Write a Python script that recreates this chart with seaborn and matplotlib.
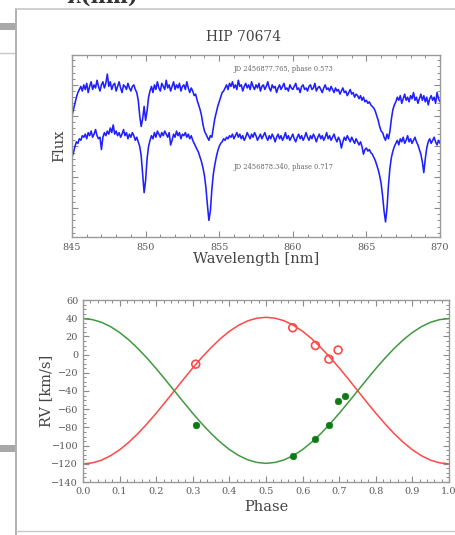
import numpy as np
import pandas as pd
import matplotlib
matplotlib.use("Agg")
import matplotlib.pyplot as plt
from matplotlib.ticker import MultipleLocator, NullFormatter
from matplotlib.lines import Line2D
from matplotlib.patches import Rectangle
import seaborn as sns

# ---------------- data ----------------
TITLE = "HIP 70674"

# CaT region spectra, sampled every 0.1 nm from 845.0 to 870.0 nm
WAVE_START, WAVE_STEP = 845.0, 0.1

FLUX_PHASE_0573 = [
    # 845.0 - 845.5
    0.80, 0.84, 0.88, 0.92, 0.95, 0.97,
    # 845.6 - 849.4
    0.99, 0.96, 1.00, 0.97, 1.01, 0.95, 0.99, 1.02, 0.97, 1.00, 0.98, 1.03, 0.99,
    0.96, 1.00, 1.02, 0.98, 1.01, 1.07, 0.99, 1.02, 0.97, 1.00, 1.01, 0.96, 0.99,
    1.02, 0.98, 0.95, 1.00, 0.99, 0.97, 1.01, 0.98, 0.96, 0.99, 1.00, 0.97, 0.95,
    # 849.5 - 850.3
    0.90, 0.80, 0.73, 0.78, 0.86, 0.77, 0.83, 0.92, 0.96,
    # 850.4 - 853.4
    0.99, 0.95, 1.00, 0.97, 1.02, 0.98, 0.96, 1.01, 0.99, 0.97, 1.03, 0.98, 1.00,
    0.96, 0.99, 1.02, 0.97, 1.00, 0.98, 1.01, 0.96, 0.99, 1.00, 0.97, 1.02, 0.98,
    0.95, 0.98, 0.96, 0.93, 0.94,
    # 853.5 - 855.3
    0.90, 0.87, 0.84, 0.80, 0.74, 0.70, 0.68, 0.66, 0.64, 0.67, 0.66, 0.72, 0.78,
    0.82, 0.86, 0.89, 0.92, 0.95, 0.96,
    # 855.4 - 864.9
    0.98, 1.00, 0.97, 1.01, 0.99, 1.02, 0.98, 1.00, 0.97, 1.03, 0.99, 1.00, 0.96,
    0.99, 1.01, 0.98, 1.00, 0.97, 1.02, 0.99, 0.97, 1.00, 0.98, 1.01, 0.96, 0.99,
    1.00, 0.97, 0.99, 1.02, 0.98, 0.96, 1.00, 0.98, 0.99, 0.95, 0.98, 1.00, 0.97,
    0.99, 1.01, 0.97, 0.98, 0.96, 1.00, 0.98, 0.97, 0.99, 1.01, 0.97, 0.98, 0.95,
    0.99, 1.00, 0.97, 0.98, 0.96, 0.99, 1.00, 0.97, 0.98, 1.01, 0.96, 0.98, 0.99,
    0.97, 0.95, 0.98, 1.00, 0.97, 0.98, 0.96, 0.99, 0.97, 0.95, 0.98, 0.96, 0.97,
    0.94, 0.96, 0.98, 0.95, 0.96, 0.93, 0.95, 0.97, 0.94, 0.95, 0.92, 0.94, 0.93,
    0.91, 0.93, 0.90, 0.92, 0.89,
    # 865.0 - 866.9
    0.90, 0.88, 0.89, 0.87, 0.86, 0.85, 0.83, 0.80, 0.77, 0.73, 0.70, 0.69, 0.66,
    0.64, 0.68, 0.65, 0.70, 0.78, 0.84, 0.87,
    # 867.0 - 870.0
    0.89, 0.92, 0.90, 0.93, 0.88, 0.91, 0.94, 0.90, 0.92, 0.89, 0.93, 0.91, 0.95,
    0.90, 0.92, 0.88, 0.91, 0.94, 0.90, 0.93, 0.89, 0.92, 0.87, 0.91, 0.93, 0.90,
    0.92, 0.88, 0.95, 0.91, 0.89,
]

FLUX_PHASE_0717 = [
    # 845.0 - 845.7
    0.53, 0.56, 0.60, 0.63, 0.62, 0.65, 0.64, 0.67,
    # 845.8 - 849.5
    0.66, 0.68, 0.65, 0.69, 0.67, 0.70, 0.66, 0.68, 0.71, 0.67, 0.65, 0.66, 0.58,
    0.66, 0.69, 0.67, 0.70, 0.68, 0.72, 0.69, 0.74, 0.68, 0.70, 0.67, 0.69, 0.66,
    0.68, 0.71, 0.67, 0.69, 0.65, 0.68, 0.66, 0.69, 0.67, 0.64, 0.66, 0.63,
    # 849.6 - 850.3
    0.60, 0.54, 0.42, 0.30, 0.38, 0.52, 0.60, 0.64,
    # 850.4 - 853.4
    0.67, 0.65, 0.69, 0.66, 0.70, 0.68, 0.66, 0.69, 0.67, 0.70, 0.68, 0.66, 0.69,
    0.61, 0.64, 0.68, 0.66, 0.70, 0.67, 0.69, 0.65, 0.68, 0.67, 0.69, 0.66, 0.68,
    0.65, 0.67, 0.64, 0.62, 0.60,
    # 853.5 - 855.3
    0.58, 0.56, 0.53, 0.50, 0.46, 0.41, 0.33, 0.22, 0.12, 0.18, 0.32, 0.42, 0.48,
    0.53, 0.57, 0.60, 0.62, 0.63, 0.65,
    # 855.4 - 864.9
    0.64, 0.66, 0.65, 0.67, 0.66, 0.68, 0.65, 0.67, 0.69, 0.66, 0.68, 0.65, 0.67,
    0.64, 0.66, 0.69, 0.67, 0.65, 0.68, 0.66, 0.69, 0.67, 0.64, 0.66, 0.68, 0.65,
    0.67, 0.69, 0.66, 0.64, 0.67, 0.65, 0.68, 0.66, 0.63, 0.66, 0.68, 0.65, 0.67,
    0.64, 0.66, 0.69, 0.65, 0.67, 0.64, 0.66, 0.68, 0.65, 0.63, 0.66, 0.68, 0.65,
    0.67, 0.64, 0.66, 0.69, 0.66, 0.64, 0.67, 0.65, 0.68, 0.66, 0.63, 0.66, 0.68,
    0.65, 0.67, 0.64, 0.66, 0.69, 0.65, 0.67, 0.64, 0.66, 0.68, 0.65, 0.63, 0.66,
    0.64, 0.59, 0.63, 0.66, 0.64, 0.67, 0.65, 0.63, 0.66, 0.64, 0.62, 0.65, 0.63,
    0.61, 0.63, 0.60, 0.55, 0.58,
    # 865.0 - 866.9
    0.59, 0.57, 0.58, 0.56, 0.55, 0.53, 0.51, 0.48, 0.45, 0.41, 0.36, 0.28, 0.18,
    0.11, 0.20, 0.35, 0.46, 0.53, 0.57, 0.60,
    # 867.0 - 870.0
    0.62, 0.64, 0.61, 0.65, 0.63, 0.66, 0.62, 0.64, 0.67, 0.63, 0.65, 0.62, 0.64,
    0.66, 0.63, 0.61, 0.58, 0.55, 0.50, 0.43, 0.52, 0.59, 0.63, 0.65, 0.62, 0.64,
    0.66, 0.63, 0.61, 0.64, 0.62,
]

SPEC_LABELS = ["JD 2456877.765, phase 0.573", "JD 2456878.340, phase 0.717"]

# Radial velocities (km/s)
OBS_PHASE_1 = [0.308, 0.573, 0.635, 0.672, 0.697]
OBS_RV_1 = [-10.5, 29.5, 10.0, -5.0, 5.0]
OBS_PHASE_2 = [0.308, 0.573, 0.635, 0.672, 0.697, 0.717]
OBS_RV_2 = [-77.0, -111.5, -93.0, -77.0, -50.5, -45.0]

# Orbit solution curves, tabulated every 0.025 in phase
CURVE_PHASE_STEP = 0.025
CURVE_RV_1 = [
    -120.0, -119.0, -116.1, -111.2, -104.6, -96.4, -86.8, -76.0, -64.4, -52.1,
    -39.5, -26.9, -14.6, -3.0, 7.6, 17.4, 25.6, 32.2, 37.1, 40.0,
    41.0,
    40.0, 37.1, 32.2, 25.6, 17.4, 7.6, -3.0, -14.6, -26.9, -39.5,
    -52.1, -64.4, -76.0, -86.8, -96.4, -104.6, -111.2, -116.1, -119.0, -120.0,
]
CURVE_RV_2 = [
    39.5, 38.5, 35.6, 30.8, 24.3, 16.2, 6.7, -3.9, -15.4, -27.6,
    -40.0, -52.4, -64.6, -76.1, -86.7, -96.2, -104.3, -110.8, -115.6, -118.5,
    -119.5,
    -118.5, -115.6, -110.8, -104.3, -96.2, -86.7, -76.1, -64.6, -52.4, -40.0,
    -27.6, -15.4, -3.9, 6.7, 16.2, 24.3, 30.8, 35.6, 38.5, 39.5,
]

# ---------------- style ----------------
sns.set_style("ticks")
plt.rcParams["font.family"] = ["DejaVu Serif"]
plt.rcParams["axes.edgecolor"] = "#9a9a9a"
plt.rcParams["axes.linewidth"] = 1.0

TICK_COLOR = "#8a8a8a"
LABEL_COLOR = "#5a5a5a"
TEXT_COLOR = "#444444"
RED = "#ff4848"
GREEN = "#3f9a3f"
GREEN_DOT = "#0e7a14"
BLUE = "#1f1fff"

W, H = 455, 535
fig = plt.figure(figsize=(W / 100, H / 100), dpi=100)
fig.patch.set_facecolor("white")


def fx(px):
    return px / W


def fy(py):
    return 1 - py / H


# page background: left strip, card outline, heading fragment
fig.add_artist(Rectangle((0, fy(30)), fx(16), 7 / H, transform=fig.transFigure,
                         facecolor="#a8a8a8", edgecolor="none", zorder=0))
fig.add_artist(Rectangle((0, fy(452)), fx(16), 7 / H, transform=fig.transFigure,
                         facecolor="#a8a8a8", edgecolor="none", zorder=0))
fig.add_artist(Line2D([0, fx(16)], [fy(53), fy(53)], transform=fig.transFigure,
                      color="#c8c8c8", lw=1.0))
fig.add_artist(Line2D([fx(16), fx(16)], [fy(9), 0], transform=fig.transFigure,
                      color="#b0b0b0", lw=1.4))
fig.add_artist(Line2D([fx(16), 1], [fy(9), fy(9)], transform=fig.transFigure,
                      color="#c8c8c8", lw=1.2))
fig.add_artist(Line2D([fx(16), 1], [fy(531), fy(531)], transform=fig.transFigure,
                      color="#c8c8c8", lw=1.0))
fig.text(fx(66), fy(3), "λ(nm)", fontsize=15, fontweight="bold", color="#333333",
         ha="left", va="baseline")


def style_axes(ax):
    ax.tick_params(which="both", direction="in", top=True, right=True,
                   color=TICK_COLOR, labelcolor=LABEL_COLOR, labelsize=7)
    ax.tick_params(which="major", length=4, width=0.8)
    ax.tick_params(which="minor", length=2, width=0.7)
    for s in ax.spines.values():
        s.set_visible(True)


# ---------------- spectra ----------------
ax1 = fig.add_axes([fx(72), fy(237), fx(440) - fx(72), (237 - 55) / H])
wave = np.round(WAVE_START + WAVE_STEP * np.arange(len(FLUX_PHASE_0573)), 2)
spec = pd.DataFrame({"wave": wave, "f1": FLUX_PHASE_0573, "f2": FLUX_PHASE_0717})
sns.lineplot(data=spec, x="wave", y="f1", ax=ax1, color=BLUE, lw=1.15,
             estimator=None, sort=False)
sns.lineplot(data=spec, x="wave", y="f2", ax=ax1, color=BLUE, lw=1.15,
             estimator=None, sort=False)
ax1.set_xlim(845, 870)
ax1.set_ylim(0.012, 1.194)
ax1.xaxis.set_major_locator(MultipleLocator(5))
ax1.xaxis.set_minor_locator(MultipleLocator(1))
ax1.yaxis.set_major_locator(MultipleLocator(0.2))
ax1.yaxis.set_minor_locator(MultipleLocator(0.04))
ax1.yaxis.set_major_formatter(NullFormatter())
style_axes(ax1)
ax1.tick_params(axis="x", which="major", pad=4)
ax1.set_xlabel("Wavelength [nm]", fontsize=10.5, color=TEXT_COLOR, labelpad=0)
ax1.set_ylabel("Flux", fontsize=10.5, color=TEXT_COLOR, labelpad=1)
ax1.text(856.0, 1.103, SPEC_LABELS[0], fontsize=4.8, color="#666666",
         ha="left", va="center")
ax1.text(856.0, 0.467, SPEC_LABELS[1], fontsize=4.8, color="#666666",
         ha="left", va="center")
fig.text(fx(244), fy(37), TITLE, fontsize=10, color=TEXT_COLOR,
         ha="center", va="center")

# ---------------- radial velocities ----------------
ax2 = fig.add_axes([fx(83), fy(482), fx(449) - fx(83), (482 - 300) / H])
curve_phase = np.round(CURVE_PHASE_STEP * np.arange(len(CURVE_RV_1)), 3)
curves = pd.DataFrame({"phase": curve_phase, "rv1": CURVE_RV_1, "rv2": CURVE_RV_2})
sns.lineplot(data=curves, x="phase", y="rv1", ax=ax2, color=RED, lw=1.1,
             estimator=None, sort=False)
sns.lineplot(data=curves, x="phase", y="rv2", ax=ax2, color=GREEN, lw=1.1,
             estimator=None, sort=False)
sns.scatterplot(x=OBS_PHASE_1, y=OBS_RV_1, ax=ax2, marker="o", s=32,
                facecolor="none", edgecolor=RED, linewidth=1.2, zorder=3)
sns.scatterplot(x=OBS_PHASE_2, y=OBS_RV_2, ax=ax2, marker="o", s=22,
                color=GREEN_DOT, edgecolor=GREEN_DOT, linewidth=0.5, zorder=3)
ax2.set_xlim(0, 1)
ax2.set_ylim(-140, 60)
ax2.xaxis.set_major_locator(MultipleLocator(0.1))
ax2.xaxis.set_minor_locator(MultipleLocator(0.02))
ax2.yaxis.set_major_locator(MultipleLocator(20))
ax2.yaxis.set_minor_locator(MultipleLocator(5))
ax2.xaxis.set_major_formatter(plt.FuncFormatter(lambda v, p: f"{v:.1f}"))
style_axes(ax2)
ax2.set_xlabel("Phase", fontsize=10.5, color=TEXT_COLOR, labelpad=3)
ax2.set_ylabel("RV [km/s]", fontsize=10.5, color=TEXT_COLOR, labelpad=-1)

fig.savefig("out.png", dpi=100, facecolor=fig.get_facecolor())
